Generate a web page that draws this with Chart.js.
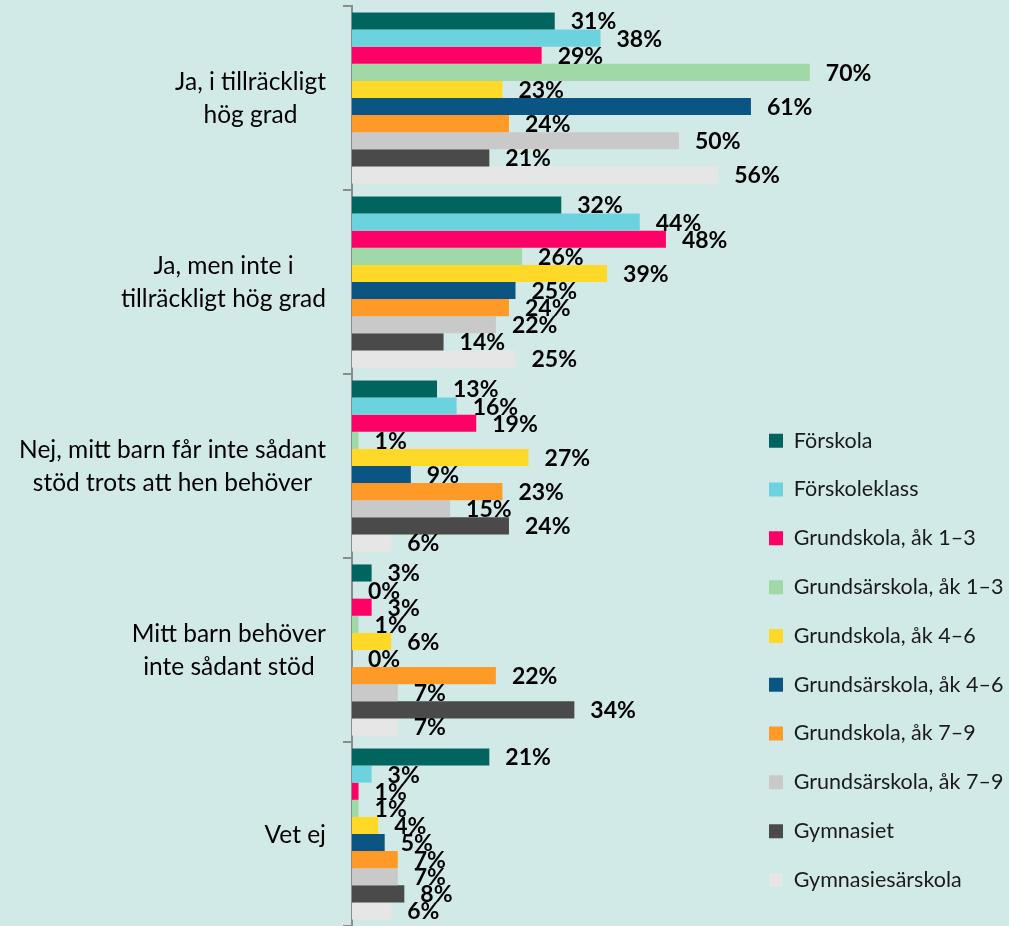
<!DOCTYPE html>
<html><head><meta charset="utf-8">
<script src="https://cdn.jsdelivr.net/npm/chart.js@4.4.1/dist/chart.umd.min.js"></script>
<style>html,body{margin:0;padding:0;background:#d2eae7;overflow:hidden;} canvas{display:block;}</style>
</head><body>
<canvas id="c" width="1009" height="926"></canvas>
<script>
const categories = [
  ["Ja, i tillräckligt", "hög grad"],
  ["Ja, men inte i", "tillräckligt hög grad"],
  ["Nej, mitt barn får inte sådant", "stöd trots att hen behöver"],
  ["Mitt barn behöver", "inte sådant stöd"],
  ["Vet ej"]
];
const seriesNames = ["Förskola", "Förskoleklass", "Grundskola, åk 1–3", "Grundsärskola, åk 1–3", "Grundskola, åk 4–6", "Grundsärskola, åk 4–6", "Grundskola, åk 7–9", "Grundsärskola, åk 7–9", "Gymnasiet", "Gymnasiesärskola"];
const forskola        = [31, 32, 13, 3, 21];
const forskoleklass   = [38, 44, 16, 0, 3];
const grundskola13    = [29, 48, 19, 3, 1];
const grundsarskola13 = [70, 26, 1, 1, 1];
const grundskola46    = [23, 39, 27, 6, 4];
const grundsarskola46 = [61, 25, 9, 0, 5];
const grundskola79    = [24, 24, 23, 22, 7];
const grundsarskola79 = [50, 22, 15, 7, 7];
const gymnasiet       = [21, 14, 24, 34, 8];
const gymnasiesarskola = [56, 25, 6, 7, 6];
const seriesValues = [forskola, forskoleklass, grundskola13, grundsarskola13, grundskola46, grundsarskola46, grundskola79, grundsarskola79, gymnasiet, gymnasiesarskola];
const seriesColors = ["#00645f", "#6cd3de", "#ff0066", "#a0d8a8", "#ffd927", "#0b5585", "#ff9a26", "#c9c9c9", "#4a4a4a", "#e6e6e6"];

Chart.defaults.font.family = "Lato";

const valueLabels = {
  id: 'valueLabels',
  afterDatasetsDraw(chart) {
    const ctx = chart.ctx;
    ctx.save();
    ctx.font = 'bold 23px Lato';
    ctx.fillStyle = '#000';
    ctx.textAlign = 'left';
    ctx.textBaseline = 'middle';
    chart.data.datasets.forEach((ds, i) => {
      const meta = chart.getDatasetMeta(i);
      meta.data.forEach((el, j) => {
        ctx.fillText(ds.data[j] + '%', el.x + 16, el.y + 1);
      });
    });
    ctx.restore();
  }
};

const categoryLabels = {
  id: 'categoryLabels',
  afterDraw(chart) {
    const ys = chart.scales.y;
    const ctx = chart.ctx;
    ctx.save();
    ctx.font = '24.5px Lato';
    ctx.fillStyle = '#000';
    ctx.textAlign = 'center';
    ctx.textBaseline = 'middle';
    const right = 326, lh = 33;
    categories.forEach((lines, i) => {
      const cy = ys.getPixelForValue(i);
      const w = Math.max(...lines.map(l => ctx.measureText(l).width));
      const cx = right - w / 2;
      lines.forEach((l, k) => ctx.fillText(l, cx, cy + 1 + (k - (lines.length - 1) / 2) * lh));
    });
    ctx.restore();
  }
};

const legendPlace = {
  id: 'legendPlace',
  afterLayout(chart) {
    const lg = chart.legend;
    if (!lg) return;
    const pad = lg.options.labels.padding;
    lg.left = 769 - pad;
    lg.top = 430 - pad;
    lg.right = lg.left + lg.width;
    lg.bottom = lg.top + 600;
  }
};

new Chart(document.getElementById('c'), {
  type: 'bar',
  data: {
    labels: categories,
    datasets: seriesNames.map((n, i) => ({
      label: n,
      data: seriesValues[i],
      backgroundColor: seriesColors[i],
      borderWidth: 0,
      barPercentage: 1,
      categoryPercentage: 0.93
    }))
  },
  options: {
    indexAxis: 'y',
    responsive: false,
    animation: false,
    layout: { padding: { top: 6, bottom: 0, left: 0, right: 3 } },
    scales: {
      x: { display: false, min: 0, max: 100 },
      y: {
        afterFit(s) { s.width = 352; },
        ticks: { display: false },
        grid: { drawOnChartArea: false, drawTicks: true, tickLength: 9, color: '#8c8c8c', lineWidth: 2, offset: true },
        border: { display: true, color: '#8c8c8c', width: 2 }
      }
    },
    plugins: {
      tooltip: { enabled: false },
      legend: {
        position: 'chartArea',
        align: 'start',
        onClick: null,
        labels: { font: { family: 'Lato', size: 21.5 }, color: '#1a1a1a', boxWidth: 14, boxHeight: 14, padding: 27.3 }
      }
    }
  },
  plugins: [valueLabels, categoryLabels, legendPlace]
});
</script>
</body></html>
